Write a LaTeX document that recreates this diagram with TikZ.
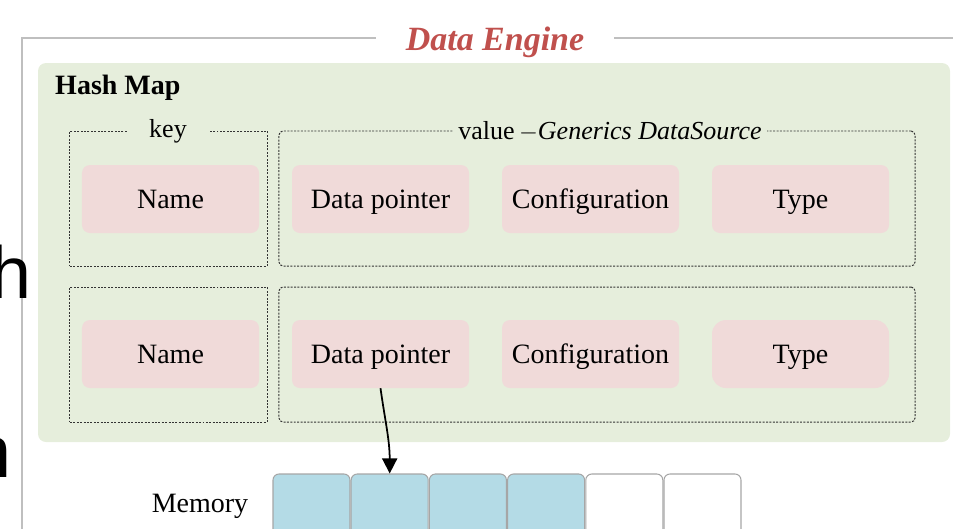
\documentclass[tikz,border=0pt]{standalone}
\usepackage{fontspec}
\setmainfont{Liberation Serif}
\newfontfamily\bigsans{Liberation Sans}
\usepackage{tikz}
\usetikzlibrary{arrows.meta}

\definecolor{enginegreen}{HTML}{E6EEDC}
\definecolor{fieldpink}{HTML}{F0DAD9}
\definecolor{memblue}{HTML}{B4DBE6}
\definecolor{titlered}{HTML}{C0504D}
\definecolor{framegray}{HTML}{BFBFBF}
\definecolor{cellgray}{HTML}{A6A6A6}
\definecolor{dashgray}{HTML}{333333}

\begin{document}
\begin{tikzpicture}[x=0.03cm, y=-0.03cm,
  fieldbox/.style={fill=fieldpink, rounded corners=0.24cm, minimum width=5.31cm, minimum height=2.04cm, inner sep=0pt, text height=0.62cm, text depth=0.08cm, font=\bodysize},
  groupbox/.style={draw=dashgray, line width=0.85pt, dash pattern=on 1.7pt off 1.2pt, minimum height=4.05cm, inner sep=0pt},
  grouplabel/.style={fill=enginegreen, inner ysep=0pt, font=\labelsize},
  memcell/.style={draw=cellgray, line width=0.9pt, rounded corners=0.18cm, minimum width=2.31cm, minimum height=2.4cm, inner sep=0pt}]
\def\bodysize{\fontsize{23.9}{28}\selectfont}
\def\labelsize{\fontsize{22.2}{26}\selectfont}
\def\titlesize{\fontsize{29}{34}\selectfont}
\def\rowone{199}
\def\rowtwo{354}

\useasboundingbox (0,0) rectangle (953,528);
\clip (0,0) rectangle (953,528);

% OUTER FRAME
\draw[framegray, line width=1pt] (22,600) -- (22,38) -- (1000,38);
\node [fill=white, inner xsep=0.9cm, inner ysep=2pt, anchor=base, text=titlered, font=\titlesize\bfseries\itshape] (title) at (495,50) {Data Engine};

% cut-off letters at the left edge
\node [anchor=base west, inner sep=0pt, font=\bigsans\fontsize{63}{70}\selectfont] (hcut) at (-10,298) {h};
\node [anchor=base west, inner sep=0pt, font=\bigsans\fontsize{63}{70}\selectfont] (ncut) at (-30,477) {n};

% HASH MAP
\fill[enginegreen, rounded corners=0.24cm] (38,63) rectangle (950,442);
\node [anchor=base west, inner sep=0pt, font=\bodysize\bfseries] (hashmap) at (55,94) {Hash Map};

\begin{scope} % FIRST ROW
\node [groupbox, minimum width=5.91cm] (key1) at (168.5,198.5) {};
\node [groupbox, minimum width=19.08cm, rounded corners=0.12cm] (val1) at (597,198.5) {};
\node [grouplabel, inner xsep=0.66cm] (keylabel) at (168,131) {key};
\node [grouplabel, inner xsep=0.15cm] (vallabel) at (610,131) {value\,$-$\textit{Generics DataSource}};

\node [fieldbox] (name1) at (170.5,\rowone) {Name};
\node [fieldbox] (dp1) at (380.5,\rowone) {Data pointer};
\node [fieldbox] (conf1) at (590.5,\rowone) {Configuration};
\node [fieldbox] (type1) at (800.5,\rowone) {Type};
\end{scope}

\begin{scope} % SECOND ROW
\node [groupbox, minimum width=5.91cm] (key2) at (168.5,354.5) {};
\node [groupbox, minimum width=19.08cm, rounded corners=0.12cm] (val2) at (597,354.5) {};

\node [fieldbox] (name2) at (170.5,\rowtwo) {Name};
\node [fieldbox] (dp2) at (380.5,\rowtwo) {Data pointer};
\node [fieldbox] (conf2) at (590.5,\rowtwo) {Configuration};
\node [fieldbox, rounded corners=0.42cm] (type2) at (800.5,\rowtwo) {Type};
\end{scope}

% MEMORY
\node [anchor=base, inner sep=0pt, font=\bodysize] (memory) at (200,512) {Memory};
\foreach \i/\c in {1/memblue,2/memblue,3/memblue,4/memblue,5/white,6/white}
  \node [memcell, fill=\c] (mem\i) at ({311.5+78.2*(\i-1)},514) {};

\draw [line width=1.5pt, -{Triangle[width=0.45cm,length=0.45cm]}] (dp2.south) to[out=-82, in=90] (mem2.north);
\end{tikzpicture}
\end{document}
